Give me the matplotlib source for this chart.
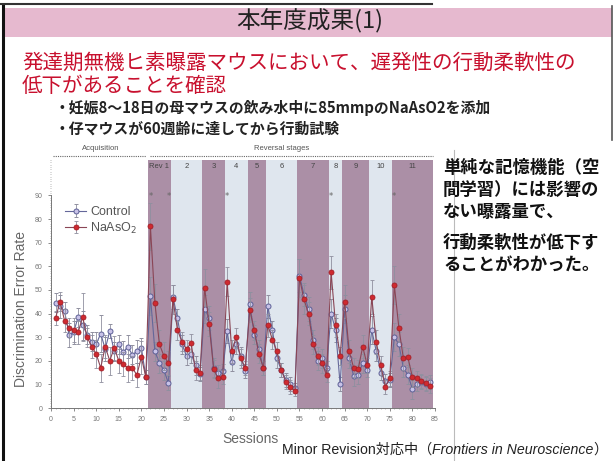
import matplotlib
matplotlib.use("Agg")
import matplotlib.pyplot as plt
from matplotlib.patches import Rectangle
from matplotlib.lines import Line2D
from matplotlib.ticker import MultipleLocator

# --- Data ---
sessions = list(range(1, 85))

control = [44.5, 43, 41, 31, 32, 38.5, 35, 31, 28, 27, 31.5, 25, 32.5, 24, 27, 23.5, 26, 22.5, 24, 25.5, 13,
           47.5, 24, 19, 16, 10.5,
           47, 38, 27, 22, 23, 18, 14.5,
           42, 38, 17, 15, 15.5,
           32.5, 19.5, 27, 22, 15.5,
           44, 31, 25, 17,
           43, 33, 21, 16, 12, 10, 8.5,
           56, 48, 42, 29, 20, 21, 17,
           40, 33, 10,
           42, 21, 13.5, 14, 19, 16,
           33, 24, 15, 11.5, 12,
           30, 27, 17, 14, 8, 10, 11, 10, 11]
control_err = [4, 5, 4, 5, 5, 4, 6, 4, 4, 5, 8, 5, 3, 4, 4, 5, 5, 4, 5, 4, 3,
               8, 4, 4, 4, 3,
               5, 4, 4, 4, 4, 4, 3,
               6, 5, 4, 3, 3,
               5, 4, 4, 4, 3,
               5, 4, 4, 3,
               5, 4, 4, 3, 3, 3, 2,
               7, 5, 5, 4, 4, 4, 3,
               6, 5, 3,
               6, 4, 4, 4, 4, 3,
               6, 4, 3, 3, 3,
               6, 5, 4, 4, 4, 3, 3, 3, 3]

naaso2 = [38, 45, 37, 34, 33, 32, 38.5, 30, 26, 23, 17, 26, 20, 25.5, 20, 18.5, 17, 17, 14, 21.5, 13,
          77, 44.5, 27, 22, 19,
          46, 33, 28, 25, 27.5, 16, 15,
          51, 35.5, 16.5, 12.5, 13,
          53.5, 24, 30, 21, 17,
          41.5, 33, 23, 17,
          35, 29, 24, 16, 11, 9, 7,
          55, 46, 40, 27, 22, 19, 14,
          57.5, 35, 22,
          45, 24, 17, 16.5, 26, 18,
          47, 28, 18, 9, 12.5,
          52, 34, 21, 21.5, 13, 12.5, 11.5, 10.5, 9.5]
naaso2_err = [3, 4, 5, 4, 5, 5, 10, 4, 5, 6, 6, 5, 6, 5, 5, 5, 6, 5, 5, 7, 3,
              10, 8, 6, 6, 5,
              6, 4, 4, 4, 4, 4, 3,
              8, 5, 4, 4, 3,
              6, 5, 4, 4, 3,
              5, 4, 4, 3,
              5, 4, 4, 3, 3, 3, 2,
              8, 6, 5, 4, 4, 4, 3,
              7, 5, 4,
              7, 5, 4, 4, 5, 3,
              7, 5, 4, 3, 3,
              8, 6, 5, 4, 4, 3, 3, 3, 3]

stage_edges = [21.5, 26.5, 33.5, 38.5, 43.5, 47.5, 54.5, 61.5, 64.5, 70.5, 75.5, 84.5]
stage_labels = ["Rev 1", "2", "3", "4", "5", "6", "7", "8", "9", "10", "11"]
star_sessions = [22, 26, 39, 62, 76]

W, H = 615, 461
def fx(px):
    return px / W
def fy(py):
    return 1 - py / H

CJK = ["Noto Sans CJK JP", "DejaVu Sans"]
LAT = ["Liberation Sans", "Noto Sans CJK JP"]

fig = plt.figure(figsize=(6.15, 4.61), dpi=100)
fig.patch.set_facecolor("white")

# --- slide decoration ---
fig.add_artist(Rectangle((fx(5), fy(37)), fx(607), 29 / H, transform=fig.transFigure,
                         facecolor="#e6b9cf", edgecolor="none"))
fig.add_artist(Line2D([fx(0), fx(432)], [fy(4), fy(4)], color="#333333", lw=1.5))
fig.add_artist(Line2D([fx(3), fx(3)], [fy(6), fy(461)], color="#111111", lw=2.2))
fig.add_artist(Line2D([fx(612), fx(612)], [fy(6), fy(140)], color="#555555", lw=1.2))
fig.add_artist(Line2D([fx(454), fx(454)], [fy(150), fy(461)], color="#bbbbbb", lw=0.8))

fig.text(fx(310), fy(21), "本年度成果(1)", family=CJK, fontsize=17, ha="center", va="center",
         color="#222222")
fig.text(fx(22), fy(63), "発達期無機ヒ素曝露マウスにおいて、遅発性の行動柔軟性の", family=CJK,
         fontsize=14.8, color="#c8102e", va="center")
fig.text(fx(22), fy(86), "低下があることを確認", family=CJK, fontsize=14.8, color="#c8102e",
         va="center")
fig.text(fx(55), fy(108), "・妊娠8〜18日の母マウスの飲み水中に85mmpのNaAsO2を添加", family=CJK,
         fontsize=10.7, weight="bold", color="#222222", va="center")
fig.text(fx(55), fy(129), "・仔マウスが60週齢に達してから行動試験", family=CJK,
         fontsize=10.7, weight="bold", color="#222222", va="center")

right_lines = ["単純な記憶機能（空", "間学習）には影響の", "ない曝露量で、"]
for i, t in enumerate(right_lines):
    fig.text(fx(443), fy(168 + 22 * i), t, family=CJK, fontsize=12.5, weight="bold",
             color="#111111", va="center")
for i, t in enumerate(["行動柔軟性が低下す", "ることがわかった。"]):
    fig.text(fx(443), fy(243 + 22 * i), t, family=CJK, fontsize=12.5, weight="bold",
             color="#111111", va="center")

# --- chart ---
ax = fig.add_axes([fx(51), 53 / H, 384 / W, 248 / H])
ax.set_xlim(0, 85)
ax.set_ylim(0, 105)

purple, light = "#ab8fa6", "#dfe6ee"
for i in range(len(stage_labels)):
    a, b = stage_edges[i], stage_edges[i + 1]
    ax.axvspan(a, b, color=purple if i % 2 == 0 else light, lw=0, zorder=0)
    ax.text((a + b) / 2, 102.3, stage_labels[i], ha="center", va="center", fontsize=5.5,
            color="#444444", family=LAT)
for s in star_sessions:
    ax.text(s, 89.5, "*", ha="center", va="center", fontsize=6, color="#666666")

# stage headers above the plot
ax.plot([0.5, 21], [106.6, 106.6], color="#666666", lw=0.8, ls=(0, (1, 1)), clip_on=False)
ax.plot([22, 84.5], [106.6, 106.6], color="#666666", lw=0.8, ls=(0, (1, 1)), clip_on=False)
ax.text(11, 110, "Acquisition", ha="center", va="center", fontsize=5.5, color="#555555",
        family=LAT)
ax.text(51, 110, "Reversal stages", ha="center", va="center", fontsize=5.5, color="#555555",
        family=LAT)

ax.errorbar(sessions, control, yerr=control_err, fmt="-o", color="#64679a", lw=0.8,
            ms=3.6, mfc="#c8c2e8", mec="#5d6096", mew=0.7, ecolor="#8f8f9f",
            elinewidth=0.6, capsize=1.3, zorder=3, label="Control")
ax.errorbar(sessions, naaso2, yerr=naaso2_err, fmt="-o", color="#8a4656", lw=0.8,
            ms=3.6, mfc="#cf2a30", mec="#a32028", mew=0.6, ecolor="#8f8f9f",
            elinewidth=0.6, capsize=1.3, zorder=4, label="NaAsO$_2$")

leg = ax.legend(loc="upper left", bbox_to_anchor=(0.02, 0.84), frameon=False, fontsize=9,
                handlelength=1.7, handletextpad=0.3, labelspacing=0.2, borderpad=0)
for t in leg.get_texts():
    t.set_color("#555555")
    t.set_family(LAT)

for sp in ["top", "right"]:
    ax.spines[sp].set_visible(False)
for sp in ["left", "bottom"]:
    ax.spines[sp].set_color("#777777")
    ax.spines[sp].set_linewidth(0.7)
ax.spines["left"].set_bounds(0, 90)
ax.set_yticks(range(0, 100, 10))
ax.set_xticks(range(0, 90, 5))
ax.xaxis.set_minor_locator(MultipleLocator(1))
ax.yaxis.set_minor_locator(MultipleLocator(1))
ax.tick_params(which="major", labelsize=5, colors="#777777", length=2, width=0.6, pad=4)
ax.tick_params(which="minor", colors="#888888", length=1, width=0.4)
for lab in ax.get_xticklabels() + ax.get_yticklabels():
    lab.set_family(LAT)

ax.set_ylabel("Discrimination Error Rate", fontsize=10, color="#666666", family=LAT)
ax.yaxis.set_label_coords(-0.06, 0.40)
ax.set_xlabel("Sessions", fontsize=10, color="#666666", family=LAT)
ax.xaxis.set_label_coords(0.52, -0.097)

# --- citation line at the bottom ---
r = fig.canvas.get_renderer()
t1 = fig.text(fx(282), fy(450), "Minor Revision対応中（", family=LAT, fontsize=10.2,
              color="#222222", va="center")
bb = t1.get_window_extent(renderer=r)
t2 = fig.text(bb.x1 / W, fy(450), "Frontiers in Neuroscience", family=LAT, style="italic",
              fontsize=10.2, color="#222222", va="center")
bb2 = t2.get_window_extent(renderer=r)
fig.text(bb2.x1 / W, fy(450), "）", family=CJK, fontsize=10.2, color="#222222", va="center")

fig.savefig("out.png", dpi=100)
